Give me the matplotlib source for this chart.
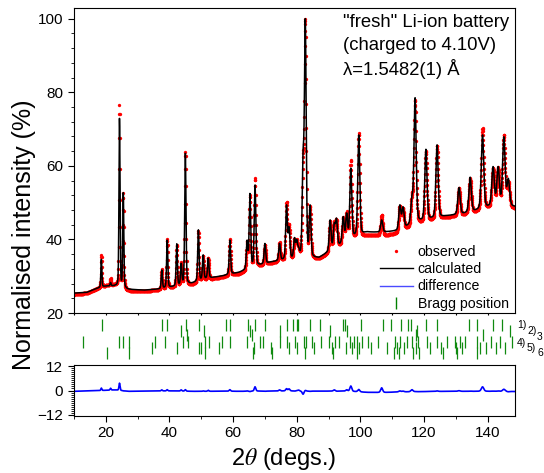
import numpy as np
import matplotlib.pyplot as plt
from matplotlib.lines import Line2D
from matplotlib.ticker import MultipleLocator

# peaks: 2theta, calculated apex and observed apex (%)
peak_pos = [18.6, 21.5, 24.3, 25.5, 37.6, 39.3, 42.3, 43.7, 45.0, 49.1, 50.6,
            52.2, 59.0, 64.4, 65.3, 66.9, 70.0, 74.6, 76.8, 77.6, 79.3, 80.0,
            80.6, 82.0, 82.7, 84.2, 90.5, 91.8, 92.5, 94.6, 95.7, 97.0, 99.5,
            106.7, 112.4, 113.4, 116.2, 117.2, 120.6, 124.1, 131.0, 134.5,
            138.4, 141.7, 143.3, 145.1, 146.5]
calc_peak = [34.6, 28.3, 72.9, 52.7, 31.7, 39.8, 38.8, 33.5, 63.4, 42.6, 35.8,
             34.9, 39.8, 39.8, 52.5, 54.8, 38.9, 38.9, 49.4, 43.5, 40.5, 40.0,
             38.0, 64.3, 100.0, 49.4, 45.3, 44.5, 45.8, 46.2, 47.2, 59.4, 68.4,
             45.3, 49.4, 48.9, 52.0, 78.5, 64.5, 65.7, 54.1, 56.9, 68.4, 59.8,
             59.8, 67.9, 56.6]
obs_peak = [35.8, 29.4, 76.5, 52.5, 32.0, 40.2, 38.6, 33.8, 63.8, 42.2, 35.6,
            35.0, 40.2, 39.6, 52.0, 56.6, 38.5, 39.2, 50.3, 44.3, 40.2, 40.0,
            38.2, 62.5, 100.0, 49.0, 45.0, 44.8, 45.5, 46.0, 47.6, 61.6, 68.9,
            46.6, 49.2, 48.6, 52.4, 78.0, 64.0, 65.5, 54.0, 56.6, 70.2, 59.5,
            59.6, 68.5, 56.0]

# background points under the pattern (%)
bg_pos = [10, 14, 17, 20, 23, 27, 32, 37, 42, 47, 52, 57, 62, 67, 72, 77,
          82, 87, 92, 97, 102, 107, 112, 117, 122, 127, 132, 137, 142, 148.7]
bg_calc = [25.4, 25.6, 26.6, 27.3, 27.3, 26.4, 26.2, 26.5, 27.2, 28.0, 29.4,
           30.1, 31.0, 32.6, 33.8, 34.4, 34.8, 34.9, 37.5, 40.0, 41.9, 41.9,
           42.3, 44.2, 45.3, 46.3, 46.8, 47.8, 49.0, 48.8]
bg_obs = [25.0, 25.4, 26.5, 27.4, 27.6, 26.0, 25.9, 26.3, 27.0, 27.6, 29.0,
          29.8, 30.6, 32.3, 33.5, 34.2, 34.5, 34.6, 37.2, 39.6, 41.0, 40.9,
          41.6, 43.6, 44.8, 45.9, 46.4, 47.4, 48.6, 48.3]

# Bragg reflection markers, six phases
bragg = [
    [18.7, 37.6, 39.2, 45.2, 49.2, 57.8, 59.1, 64.6, 66.9, 70.0, 77.1, 78.9,
     80.2, 80.5, 84.2, 87.3, 94.5, 95.3, 100.2, 107.2, 109.7, 112.7, 115.1,
     115.9, 120.6, 124.0, 134.3, 136.6, 141.8, 144.5],
    [43.6, 50.9, 65.3, 74.8, 90.5, 95.7, 117.7, 147.1],
    [45.6, 65.8, 117.4, 138.5],
    [12.7, 24.2, 25.5, 27.4, 35.5, 38.6, 44.4, 45.9, 51.2, 52.5, 56.4, 59.0,
     64.3, 68.5, 69.5, 74.8, 76.9, 79.5, 82.3, 82.9, 84.7, 87.5, 90.0, 92.1,
     93.4, 96.8, 98.0, 98.9, 100.4, 102.5, 105.7, 110.9, 112.5, 114.6, 116.2,
     118.2, 120.9, 124.0, 127.2, 129.8, 131.4, 133.0, 136.6, 141.0, 143.9,
     147.6],
    [34.4, 42.3, 49.3, 49.9, 55.7, 66.6, 72.0, 77.5, 80.2, 85.5, 91.0, 95.5,
     97.3, 99.5, 103.5, 108.5, 111.5, 113.7, 117.5, 121.8, 125.5, 130.2,
     132.0, 137.5, 139.5, 142.6, 145.5],
    [20.3, 27.4, 51.2, 66.4, 72.3, 82.5, 91.5, 99.0, 110.7, 112.3, 116.5,
     118.5, 126.0, 130.5, 136.8],
]
phase_labels = ["1)", "2)", "3", "4)", "5)", "6"]

plt.rcParams['font.family'] = ['Liberation Sans', 'DejaVu Sans']
plt.rcParams['mathtext.fontset'] = 'stix'

W, H = 544, 473


def fig_rect(left, top, right, bottom):
    return [left / W, 1 - bottom / H, (right - left) / W, (bottom - top) / H]


def pv(x, pos, fwhm, eta=0.3):
    d = (x - pos) / (fwhm / 2)
    return eta / (1 + d ** 2) + (1 - eta) * np.exp(-np.log(2) * d ** 2)


def fwhm(p):
    return 0.32 + 0.0045 * (p - 10)


def pattern(x, heights, bg):
    pos = np.array(peak_pos)
    w = fwhm(pos)
    base = np.interp(pos, bg_pos, bg)
    m = np.array([[pv(pi, pj, wj) for pj, wj in zip(pos, w)] for pi in pos])
    amp = np.linalg.solve(m, np.array(heights) - base)
    y = np.interp(x, bg_pos, bg)
    for a, p, ww in zip(amp, pos, w):
        y = y + a * pv(x, p, ww)
    return y


def main():
    tth = np.arange(10, 148.66, 0.05)
    calc = pattern(tth, calc_peak, bg_calc)
    obs = pattern(tth, obs_peak, bg_obs)
    diff = obs - calc

    fig = plt.figure(figsize=(W / 100, H / 100), dpi=100)
    ax = fig.add_axes(fig_rect(73.5, 8, 515, 313))
    axb = fig.add_axes(fig_rect(73.5, 313, 515, 365))
    axd = fig.add_axes(fig_rect(73.5, 365, 515, 416))

    xlim = (9.85, 148.6)
    ax.plot(tth, obs, 'o', ms=2.4, mec='none', color='red')
    ax.plot(tth, calc, color='black', lw=1.1)
    ax.set_xlim(xlim)
    ax.set_ylim(20, 102.9)
    ax.yaxis.set_major_locator(MultipleLocator(20))
    ax.yaxis.set_minor_locator(MultipleLocator(4))
    ax.xaxis.set_major_locator(MultipleLocator(10))
    ax.tick_params(axis='y', which='major', direction='out', length=4, labelsize=11)
    ax.tick_params(axis='y', which='minor', direction='out', length=2.5)
    ax.tick_params(axis='x', direction='out', length=1.5, labelbottom=False)
    ax.set_ylabel('Normalised intensity (%)', fontsize=18)
    ax.yaxis.set_label_coords(-0.085, 0.255)

    for i, s in enumerate(['"fresh" Li-ion battery', '(charged to 4.10V)',
                           'λ=1.5482(1) Å']):
        ax.text(0.611, (313 - (22 + 23.5 * i)) / 305, s, transform=ax.transAxes,
                fontsize=13.3, ha='left', va='center')

    handles = [
        Line2D([], [], ls='none', marker='o', ms=2.4, mec='none', color='red'),
        Line2D([], [], color='black', lw=1.0),
        Line2D([], [], color='#4a4aff', lw=1.0),
        Line2D([], [], ls='none', marker='|', ms=8, mew=1, color='green'),
    ]
    ax.legend(handles, ['observed', 'calculated', 'difference', 'Bragg position'],
              loc='lower right', bbox_to_anchor=(1.005, -0.02), frameon=False,
              fontsize=10.2, handlelength=2.3, handletextpad=0.35, numpoints=1,
              labelspacing=0.22, borderaxespad=0.2)

    centers = [325, 330.5, 335, 342, 347.5, 353]
    for pos, c in zip(bragg, centers):
        axb.vlines(pos, c - 6, c + 6, color='#108a10', lw=0.9)
    axb.set_xlim(xlim)
    axb.set_ylim(365, 313)
    axb.axis('off')

    label_xy = [(517, 325), (527, 331), (537, 337), (517, 343), (527, 348), (537, 353)]
    for s, (px, py) in zip(phase_labels, label_xy):
        fig.text(px / W, 1 - py / H, s, fontsize=7.5, ha='left', va='center')

    axd.plot(tth, diff, color='blue', lw=1.2)
    axd.set_xlim(xlim)
    axd.set_ylim(-12.5, 12.5)
    axd.set_yticks([-12, 0, 12])
    axd.yaxis.set_minor_locator(MultipleLocator(1))
    axd.xaxis.set_major_locator(MultipleLocator(20))
    axd.xaxis.set_minor_locator(MultipleLocator(10))
    axd.tick_params(which='major', direction='out', length=4, labelsize=11)
    axd.tick_params(which='minor', direction='out', length=2.5)
    axd.set_xlabel(r'2$\theta$ (degs.)', fontsize=17)
    axd.xaxis.set_label_coords(0.475, -0.58)

    fig.savefig('out.png', dpi=100)


if __name__ == "__main__":
    main()
